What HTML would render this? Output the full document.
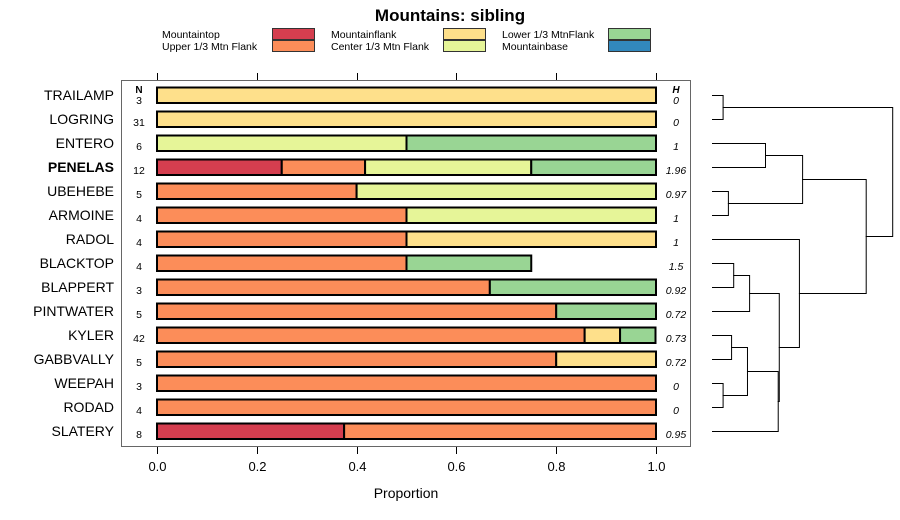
<!DOCTYPE html>
<html><head><meta charset="utf-8"><style>
html,body{margin:0;padding:0;background:#fff;}
svg{display:block;font-family:"Liberation Sans",sans-serif;}
</style></head><body>
<svg id="chart" width="900" height="520" viewBox="0 0 900 520">
<text x="450" y="21" text-anchor="middle" font-size="17" font-weight="bold">Mountains: sibling</text>
<g id="legend"></g>
<rect x="121.5" y="80.5" width="569" height="366" fill="none" stroke="#666" stroke-width="1"/>
<g id="axes"></g>
<g id="bars"></g>
<g id="dendro" stroke="#000" stroke-width="1" fill="none"></g>
<text x="406" y="498" text-anchor="middle" font-size="14">Proportion</text>
</svg>
<script>
const categories = ["Mountaintop","Upper 1/3 Mtn Flank","Mountainflank","Center 1/3 Mtn Flank","Lower 1/3 MtnFlank","Mountainbase"];
const colors = ["#D53E4F","#FC8D59","#FEE08B","#E6F598","#99D594","#3288BD"];
const sites = ["TRAILAMP","LOGRING","ENTERO","PENELAS","UBEHEBE","ARMOINE","RADOL","BLACKTOP","BLAPPERT","PINTWATER","KYLER","GABBVALLY","WEEPAH","RODAD","SLATERY"];
const nValues = [3,31,6,12,5,4,4,4,3,5,42,5,3,4,8];
const hValues = ["0","0","1","1.96","0.97","1","1","1.5","0.92","0.72","0.73","0.72","0","0","0.95"];
const topVals    = [0,0,0,0.25,0,0,0,0,0,0,0,0,0,0,0.375];
const upperVals  = [0,0,0,0.167,0.4,0.5,0.5,0.5,0.667,0.8,0.857,0.8,1,1,0.625];
const flankVals  = [1,1,0,0,0,0,0.5,0,0,0,0.071,0.2,0,0,0];
const centerVals = [0,0,0.5,0.333,0.6,0.5,0,0,0,0,0,0,0,0,0];
const lowerVals  = [0,0,0.5,0.25,0,0,0,0.25,0.333,0.2,0.071,0,0,0,0];
const baseVals   = [0,0,0,0,0,0,0,0,0,0,0,0,0,0,0];
const xTicks = [0,0.2,0.4,0.6,0.8,1.0];
const xTickLabels = ["0.0","0.2","0.4","0.6","0.8","1.0"];
// dendrogram merges: [leftChild, rightChild, height]; leaves are indices, nodes "n#"
const merges = [[0,1,0.1],[2,3,0.5],[4,5,0.15],["n1","n2",0.85],[7,8,0.2],["n4",9,0.35],[10,11,0.18],[12,13,0.1],["n6","n7",0.33],["n8",14,0.62],["n5","n9",0.63],[6,"n10",0.82],["n3","n11",1.45],["n0","n12",1.7]];

const NS="http://www.w3.org/2000/svg";
function mk(tag,attrs,parent,txt){const e=document.createElementNS(NS,tag);for(const k in attrs)e.setAttribute(k,attrs[k]);if(txt!==undefined)e.textContent=txt;parent.appendChild(e);return e;}
const xS=v=>157+v*499;
const yS=i=>95+i*24;
const series=[topVals,upperVals,flankVals,centerVals,lowerVals,baseVals];

// legend
const lg=document.getElementById('legend');
const colX=[[162,272],[331,443],[502,608]];
categories.forEach((c,i)=>{
  const col=Math.floor(i/2), row=i%2;
  const t=mk('text',{x:colX[col][0],y:38+row*12,'font-size':10.5},lg,c);
  
  
  const r=mk('rect',{x:colX[col][1]+0.5,y:28.5+row*12,width:42,height:11,fill:colors[i],stroke:'#333','stroke-width':1},lg);
  
  
});

// axes
const ax=document.getElementById('axes');
xTicks.forEach((v,i)=>{
  const x=Math.round(xS(v))+0.5;
  mk('line',{x1:x,x2:x,y1:73,y2:80,stroke:'#000'},ax);
  mk('line',{x1:x,x2:x,y1:447,y2:454,stroke:'#000'},ax);
  const t=mk('text',{x:x,y:471,'text-anchor':'middle','font-size':13},ax,xTickLabels[i]);
  
  
});
mk('text',{x:139,y:93,'text-anchor':'middle','font-size':10,'font-weight':'bold'},ax,'N');
mk('text',{x:676,y:93,'text-anchor':'middle','font-size':10,'font-weight':'bold','font-style':'italic'},ax,'H');

// bars
const bg=document.getElementById('bars');
sites.forEach((s,i)=>{
  const y=yS(i);
  const lab=mk('text',{x:114,y:y+5,'text-anchor':'end','font-size':14,'font-weight':s==='PENELAS'?'bold':'normal'},bg,s);
  
  
  const n=mk('text',{x:139,y:y+(i===0?9:7),'text-anchor':'middle','font-size':10.5},bg,String(nValues[i]));
  
  
  const h=mk('text',{x:676,y:y+(i===0?9:7),'text-anchor':'middle','font-size':10.5,'font-style':'italic'},bg,hValues[i]);
  
  
  let cum=0;
  series.forEach((arr,k)=>{
    const v=arr[i]; if(!v) return;
    const x0=xS(cum), x1=xS(cum+v); cum+=v;
    const r=mk('rect',{x:x0,y:y-7.5,width:x1-x0,height:15.5,fill:colors[k],stroke:'#000','stroke-width':2},bg);
    
    
  });
});

// dendrogram
const dg=document.getElementById('dendro');
const x0=712, hScale=106;
const nodes={};
function pos(c){ if(typeof c==='number') return {x:x0,y:yS(c)}; return nodes[c]; }
merges.forEach((m,i)=>{
  const a=pos(m[0]), b=pos(m[1]);
  const hx=x0+m[2]*hScale;
  const p=mk('path',{d:`M${a.x},${a.y+0.5}H${hx+0.5}V${b.y+0.5}H${b.x}`},dg);
  
  
  nodes['n'+i]={x:hx,y:(a.y+b.y)/2};
});
</script>
</body></html>
